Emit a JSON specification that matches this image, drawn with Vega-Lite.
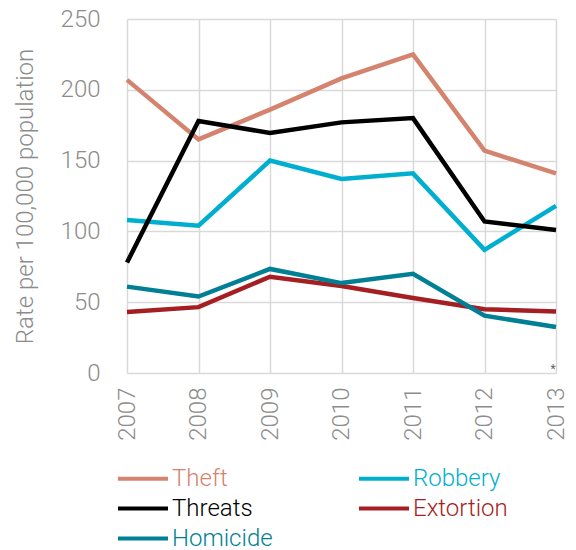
{
  "$schema": "https://vega.github.io/schema/vega-lite/v6.json",
  "width": 429,
  "height": 354,
  "autosize": "none",
  "padding": {"left": 127, "top": 19, "right": 20, "bottom": 177},
  "background": "white",
  "config": {
    "view": {"stroke": null},
    "font": "Roboto",
    "axis": {
      "domain": false,
      "ticks": false,
      "gridColor": "#d9d9d9",
      "gridWidth": 1.5,
      "labelColor": "#8c8c8c",
      "labelFont": "Roboto",
      "labelFontWeight": 300,
      "labelFontSize": 24,
      "titleFont": "Roboto",
      "titleFontWeight": 300,
      "titleFontSize": 24,
      "titleColor": "#8c8c8c"
    }
  },
  "layer": [
    {
      "data": {
        "values": [
          {"year": 2007, "crime": "Theft", "rate": 207},
          {"year": 2008, "crime": "Theft", "rate": 165},
          {"year": 2009, "crime": "Theft", "rate": 186},
          {"year": 2010, "crime": "Theft", "rate": 208},
          {"year": 2011, "crime": "Theft", "rate": 225},
          {"year": 2012, "crime": "Theft", "rate": 157},
          {"year": 2013, "crime": "Theft", "rate": 141},
          {"year": 2007, "crime": "Robbery", "rate": 108},
          {"year": 2008, "crime": "Robbery", "rate": 104},
          {"year": 2009, "crime": "Robbery", "rate": 150},
          {"year": 2010, "crime": "Robbery", "rate": 137},
          {"year": 2011, "crime": "Robbery", "rate": 141},
          {"year": 2012, "crime": "Robbery", "rate": 87},
          {"year": 2013, "crime": "Robbery", "rate": 118},
          {"year": 2007, "crime": "Threats", "rate": 78},
          {"year": 2008, "crime": "Threats", "rate": 178},
          {"year": 2009, "crime": "Threats", "rate": 169.5},
          {"year": 2010, "crime": "Threats", "rate": 177},
          {"year": 2011, "crime": "Threats", "rate": 180},
          {"year": 2012, "crime": "Threats", "rate": 107},
          {"year": 2013, "crime": "Threats", "rate": 101},
          {"year": 2007, "crime": "Extortion", "rate": 43},
          {"year": 2008, "crime": "Extortion", "rate": 46.5},
          {"year": 2009, "crime": "Extortion", "rate": 68},
          {"year": 2010, "crime": "Extortion", "rate": 61.5},
          {"year": 2011, "crime": "Extortion", "rate": 53},
          {"year": 2012, "crime": "Extortion", "rate": 45},
          {"year": 2013, "crime": "Extortion", "rate": 43.5},
          {"year": 2007, "crime": "Homicide", "rate": 61},
          {"year": 2008, "crime": "Homicide", "rate": 54},
          {"year": 2009, "crime": "Homicide", "rate": 73.5},
          {"year": 2010, "crime": "Homicide", "rate": 63.5},
          {"year": 2011, "crime": "Homicide", "rate": 70},
          {"year": 2012, "crime": "Homicide", "rate": 40.5},
          {"year": 2013, "crime": "Homicide", "rate": 32.5}
        ]
      },
      "mark": {"type": "line", "strokeWidth": 4.5},
      "encoding": {
        "x": {
          "field": "year",
          "type": "ordinal",
          "scale": {"type": "point", "padding": 0},
          "axis": {"title": null, "labelAngle": 270, "labelPadding": 14, "grid": true}
        },
        "y": {
          "field": "rate",
          "type": "quantitative",
          "scale": {"domain": [0, 250], "nice": false},
          "axis": {"title": "Rate per 100,000 population", "values": [0, 50, 100, 150, 200, 250], "labelPadding": 27, "titlePadding": 23}
        },
        "color": {
          "field": "crime",
          "type": "nominal",
          "scale": {
            "domain": ["Theft", "Robbery", "Threats", "Extortion", "Homicide"],
            "range": ["#d4836f", "#00afd0", "#000000", "#a51e22", "#007f95"]
          },
          "legend": {
            "title": null,
            "orient": "none",
            "direction": "horizontal",
            "legendX": 1.5,
            "legendY": 445,
            "columns": 2,
            "columnPadding": 77,
            "rowPadding": 3,
            "symbolType": "M-2,0H2",
            "symbolSize": 625,
            "symbolStrokeWidth": 4,
            "labelFontSize": 24,
            "labelFont": "Roboto",
            "labelFontWeight": 300,
            "labelOffset": 14.5,
            "encode": {
              "labels": {"update": {"fill": {"scale": "color", "field": "value"}}}
            }
          }
        }
      }
    },
    {
      "data": {"values": [{"year": 2013, "rate": 0, "note": "*"}]},
      "mark": {"type": "text", "fontSize": 12, "color": "#666666", "dx": -3, "dy": -4},
      "encoding": {
        "x": {"field": "year", "type": "ordinal"},
        "y": {"field": "rate", "type": "quantitative"},
        "text": {"field": "note"}
      }
    }
  ]
}
